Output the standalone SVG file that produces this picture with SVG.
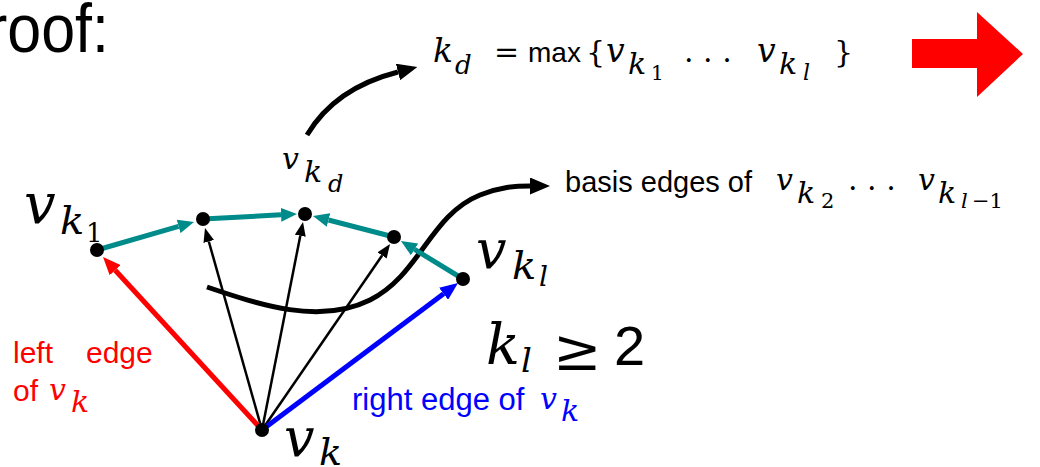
<svg xmlns="http://www.w3.org/2000/svg" width="1040" height="467" viewBox="0 0 1040 467">
<style>
.m{font-family:"DejaVu Serif","Liberation Serif",serif;font-style:italic}
.s{font-family:"Liberation Sans",Arial,sans-serif}
.r{font-family:"DejaVu Serif","Liberation Serif",serif;font-style:normal}
.teal{stroke:#008b8b;stroke-width:5;fill:none}
.thin{stroke:#000;stroke-width:2.5;fill:none}
.dot{fill:#000}
</style>
<defs>
<marker id="aT" markerUnits="userSpaceOnUse" viewBox="0 0 16 14" refX="0" refY="7" markerWidth="16" markerHeight="14" orient="auto"><path d="M0,0 L16,7 L0,14 z" fill="#008b8b"/></marker>
<marker id="aK" markerUnits="userSpaceOnUse" viewBox="0 0 14 11" refX="0" refY="5.5" markerWidth="14" markerHeight="11" orient="auto"><path d="M0,0 L14,5.5 L0,11 z" fill="#000"/></marker>
<marker id="aR" markerUnits="userSpaceOnUse" viewBox="0 0 18 15" refX="0" refY="7.5" markerWidth="18" markerHeight="15" orient="auto"><path d="M0,0 L18,7.5 L0,15 z" fill="#f00"/></marker>
<marker id="aB" markerUnits="userSpaceOnUse" viewBox="0 0 18 15" refX="0" refY="7.5" markerWidth="18" markerHeight="15" orient="auto"><path d="M0,0 L18,7.5 L0,15 z" fill="#00f"/></marker>
<marker id="aC" markerUnits="userSpaceOnUse" viewBox="0 0 20 17" refX="0" refY="8.5" markerWidth="20" markerHeight="17" orient="auto"><path d="M0,0 L20,8.5 L0,17 z" fill="#000"/></marker>
</defs>

<text class="s" x="-13" y="52" font-size="68" textLength="122" lengthAdjust="spacingAndGlyphs">roof:</text>

<g id="formula-top">
<text class="m" x="433" y="62" font-size="33">k</text>
<text class="m" x="455" y="74" font-size="26">d</text>
<text class="r" x="494" y="62" font-size="30">=</text>
<text class="s" x="528" y="62" font-size="28">max</text>
<text class="r" x="586" y="62" font-size="30">{</text>
<text class="m" x="606" y="62" font-size="33">v</text>
<text class="m" x="628" y="74" font-size="30">k</text>
<text class="r" x="651" y="80" font-size="20">1</text>
<text class="r" x="684" y="62" font-size="30">. . .</text>
<text class="m" x="757" y="62" font-size="33">v</text>
<text class="m" x="779" y="74" font-size="30">k</text>
<text class="m" x="803" y="80" font-size="22">l</text>
<text class="r" x="834" y="62" font-size="30">}</text>
</g>

<path id="big-arrow" d="M912,39 L977,39 L977,12 L1023,54 L977,97 L977,68 L912,68 z" fill="#f00"/>

<g id="connectors">
<path d="M307,135 Q335,88 398,72" stroke="#000" stroke-width="5" fill="none" marker-end="url(#aC)"/>
<path d="M207,287 C260,305 320,325 370,300 C420,275 430,215 480,195 C500,187 515,186 530,186" stroke="#000" stroke-width="5" fill="none" marker-end="url(#aC)"/>
<path class="teal" d="M97,250 L178.6,226.4" marker-end="url(#aT)"/>
<path class="teal" d="M203,219 L281,214.8" marker-end="url(#aT)"/>
<path class="teal" d="M394,237 L328.5,220" marker-end="url(#aT)"/>
<path class="teal" d="M463,279 L414.6,249.4" marker-end="url(#aT)"/>
<path class="thin" d="M262,430 L208.8,241.5" marker-end="url(#aK)"/>
<path class="thin" d="M262,430 L300.3,235.7" marker-end="url(#aK)"/>
<path class="thin" d="M262,430 L382.1,255.5" marker-end="url(#aK)"/>
<path d="M262,430 L115.2,270.2" stroke="#f00" stroke-width="5" fill="none" marker-end="url(#aR)"/>
<path d="M262,430 L443.6,293.8" stroke="#00f" stroke-width="5" fill="none" marker-end="url(#aB)"/>
</g>

<g id="node-vk1"><circle class="dot" cx="97" cy="250" r="7"/>
<text class="m" x="24" y="223" font-size="56">v</text>
<text class="m" x="60" y="234" font-size="40">k</text>
<text class="r" x="86" y="242" font-size="26">1</text></g>
<g id="node-vk2"><circle class="dot" cx="203" cy="219" r="7"/></g>
<g id="node-vkd"><circle class="dot" cx="305" cy="214" r="7"/>
<text class="m" x="282" y="169" font-size="30">v</text>
<text class="m" x="304" y="182" font-size="30">k</text>
<text class="m" x="328" y="192" font-size="24">d</text></g>
<g id="node-vk3"><circle class="dot" cx="394" cy="237" r="7"/></g>
<g id="node-vkl"><circle class="dot" cx="463" cy="279" r="7"/>
<text class="m" x="476" y="268" font-size="54">v</text>
<text class="m" x="512" y="279" font-size="40">k</text>
<text class="m" x="539" y="286" font-size="28">l</text></g>
<g id="node-vk"><circle class="dot" cx="262" cy="430" r="7"/>
<text class="m" x="284" y="456" font-size="54">v</text>
<text class="m" x="319" y="465" font-size="38">k</text></g>

<g id="label-basis">
<text class="s" x="565" y="192" font-size="29">basis edges of</text>
<text class="m" x="776" y="190" font-size="30">v</text>
<text class="m" x="797" y="203" font-size="30">k</text>
<text class="r" x="821" y="208" font-size="21">2</text>
<text class="r" x="848" y="190" font-size="30">. . .</text>
<text class="m" x="918" y="190" font-size="30">v</text>
<text class="m" x="938" y="203" font-size="30">k</text>
<text class="m" x="961" y="208" font-size="21">l</text>
<text class="r" x="972" y="208" font-size="21">−1</text></g>

<g id="label-kl">
<text class="m" x="486" y="364" font-size="56">k</text>
<text class="m" x="521" y="372" font-size="34">l</text>
<text class="r" x="553" y="370" font-size="58">≥</text>
<text class="s" x="614" y="365" font-size="56">2</text></g>

<g id="label-left" fill="#f00">
<text class="s" x="13" y="363" font-size="30">left</text>
<text class="s" x="86" y="363" font-size="30">edge</text>
<text class="s" x="13" y="401" font-size="30">of</text>
<text class="m" x="49" y="400" font-size="30">v</text>
<text class="m" x="71" y="412" font-size="30">k</text></g>

<g id="label-right" fill="#00f">
<text class="s" x="352" y="410" font-size="31">right edge of</text>
<text class="m" x="540" y="409" font-size="30">v</text>
<text class="m" x="561" y="421" font-size="30">k</text></g>
</svg>
